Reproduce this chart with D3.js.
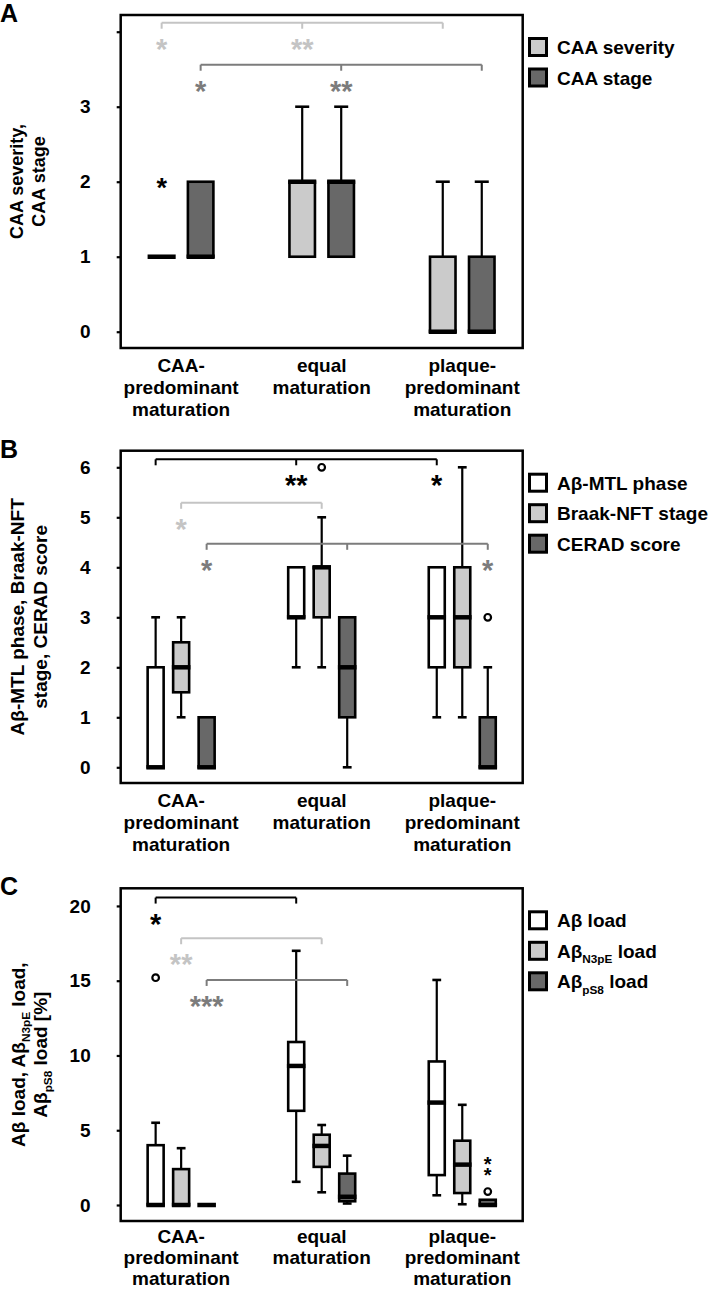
<!DOCTYPE html>
<html>
<head>
<meta charset="utf-8">
<script src="https://cdn.jsdelivr.net/npm/d3@7"></script>
<style>
  body { margin: 0; background: #fff; }
  svg text { font-family: "Liberation Sans", Arial, sans-serif; font-weight: bold; }
</style>
</head>
<body>
<div id="chart"></div>
<script>
// categories
const groupLabels = [
  ["CAA-", "predominant", "maturation"],
  ["equal", "maturation"],
  ["plaque-", "predominant", "maturation"]
];

// box stats per group: [min, q1, median, q3, max]
// panel A
const caaSeverity = [[1, 1, 1, 1, 1], [1, 1, 2, 2, 3], [0, 0, 0, 1, 2]];
const caaStage = [[1, 1, 1, 2, 2], [1, 1, 2, 2, 3], [0, 0, 0, 1, 2]];
const caaSeverityExtremes = [[2], [], []];
const aTicks = [0, 1, 2, 3, 4];
const aTickLabels = ["0", "1", "2", "3", ""];

// panel B
const abMtlPhase = [[0, 0, 0, 2, 3], [2, 3, 3, 4, 4], [1, 2, 3, 4, 4]];
const braakStage = [[1, 1.5, 2, 2.5, 3], [2, 3, 4, 4, 5], [1, 2, 3, 4, 6]];
const ceradScore = [[0, 0, 0, 1, 1], [0, 1, 2, 3, 3], [0, 0, 0, 1, 2]];
const braakOutliers = [[], [6], []];
const ceradOutliers = [[], [], [3]];
const bTicks = [0, 1, 2, 3, 4, 5, 6];

// panel C
const abLoad = [[0, 0, 0, 4.0, 5.5], [1.55, 6.3, 9.3, 10.9, 17.0], [0.65, 2.0, 6.85, 9.6, 15.05]];
const n3peLoad = [[0, 0, 0, 2.4, 3.8], [0.85, 2.55, 3.95, 4.7, 5.35], [0.05, 0.8, 2.7, 4.3, 6.7]];
const ps8Load = [[0, 0, 0, 0, 0], [0.1, 0.25, 0.55, 2.1, 3.3], [0, 0, 0, 0.35, 0.35]];
const abLoadOutliers = [[15.2], [], []];
const ps8Outliers = [[], [], [0.9]];
const ps8Extremes = [[], [], [2.3, 3.0]];
const cTicks = [0, 5, 10, 15, 20];

// significance brackets: series, groups joined, level (data units), stars per joined group
const aBrackets = [
  { series: 0, groups: [0, 1, 2], level: 4.12, stars: ["*", "**", ""] },
  { series: 1, groups: [0, 1, 2], level: 3.56, stars: ["*", "**", ""] }
];
const bBrackets = [
  { series: 0, groups: [0, 1, 2], level: 6.16, stars: ["", "**", "*"] },
  { series: 1, groups: [0, 1], level: 5.29, stars: ["*", ""] },
  { series: 2, groups: [0, 1, 2], level: 4.47, stars: ["*", "", "*"] }
];
const cBrackets = [
  { series: 0, groups: [0, 1], level: 20.56, stars: ["*", ""] },
  { series: 1, groups: [0, 1], level: 17.84, stars: ["**", ""] },
  { series: 2, groups: [0, 1], level: 15.05, stars: ["***", ""] }
];

const WHITE = "#ffffff", LIGHT = "#cbcbcb", DARK = "#686868";
const LIGHT_LINE = "#c4c4c4", DARK_LINE = "#7c7c7c";

const width = 709, height = 1291;
const frameLeft = 120.7, frameRight = 522.7;

const svg = d3.select("#chart").append("svg")
  .attr("width", width)
  .attr("height", height);

// 每个面板的配置
const panels = [
  {
    letter: "A", top: 15, bottom: 348, yDomain: [-0.217, 4.223],
    ticks: aTicks, tickFormat: (d, i) => aTickLabels[i],
    title: [[{ t: "CAA severity," }], [{ t: "CAA stage" }]], titleSize: 18, titleX: [23, 45],
    series: [caaSeverity, caaStage], fills: [LIGHT, DARK], lines: [LIGHT_LINE, DARK_LINE],
    outliers: [[[], [], []], [[], [], []]], extremes: [caaSeverityExtremes, [[], [], []]],
    legend: [[{ t: "CAA severity" }], [{ t: "CAA stage" }]],
    spread: 19.5, boxW: 25.5, brackets: aBrackets, labelGap: 24, labelStep: 22
  },
  {
    letter: "B", top: 450.7, bottom: 783, yDomain: [-0.314, 6.332],
    ticks: bTicks, tickFormat: d3.format("d"),
    title: [[{ t: "Aβ-MTL phase, Braak-NFT" }], [{ t: "stage, CERAD score" }]], titleSize: 19, titleX: [24, 47],
    series: [abMtlPhase, braakStage, ceradScore], fills: [WHITE, LIGHT, DARK], lines: ["#000", LIGHT_LINE, DARK_LINE],
    outliers: [[[], [], []], braakOutliers, ceradOutliers], extremes: [[[], [], []], [[], [], []], [[], [], []]],
    legend: [[{ t: "Aβ-MTL phase" }], [{ t: "Braak-NFT stage" }], [{ t: "CERAD score" }]],
    spread: 25.5, boxW: 16, brackets: bBrackets, labelGap: 24, labelStep: 22
  },
  {
    letter: "C", top: 888.3, bottom: 1221, yDomain: [-1.07, 21.18],
    ticks: cTicks, tickFormat: d3.format("d"),
    title: [
      [{ t: "Aβ load, Aβ" }, { t: "N3pE", sub: true }, { t: " load," }],
      [{ t: "Aβ" }, { t: "pS8", sub: true }, { t: " load [%]" }]
    ], titleSize: 19, titleX: [25, 47],
    series: [abLoad, n3peLoad, ps8Load], fills: [WHITE, LIGHT, DARK], lines: ["#000", LIGHT_LINE, DARK_LINE],
    outliers: [abLoadOutliers, [[], [], []], ps8Outliers], extremes: [[[], [], []], [[], [], []], ps8Extremes],
    legend: [
      [{ t: "Aβ load" }],
      [{ t: "Aβ" }, { t: "N3pE", sub: true }, { t: " load" }],
      [{ t: "Aβ" }, { t: "pS8", sub: true }, { t: " load" }]
    ],
    spread: 25.5, boxW: 16, brackets: cBrackets, labelGap: 22, labelStep: 21
  }
];

// 写带下标的文字
function richText(sel, parts, size) {
  parts.forEach(p => {
    const ts = sel.append("tspan").text(p.t);
    if (p.sub) {
      ts.attr("font-size", size * 0.62).attr("dy", size * 0.28);
    } else if (sel.selectAll("tspan").size() > 1) {
      ts.attr("dy", -size * 0.28);
    }
  });
}

function drawPanel(p) {
  const g = svg.append("g");
  const y = d3.scaleLinear().domain(p.yDomain).range([p.bottom, p.top]);
  const x = d3.scalePoint().domain(d3.range(groupLabels.length))
    .range([frameLeft, frameRight]).padding(0.43);
  const xs = d3.scalePoint().domain(d3.range(p.series.length)).range([-p.spread, p.spread]);
  const cx = (s, gi) => x(gi) + xs(s);
  const capW = p.boxW * 0.55;

  // panel letter
  g.append("text").attr("x", 0).attr("y", p.top + 7).attr("font-size", 25).text(p.letter);

  // y axis
  const axis = g.append("g")
    .attr("transform", `translate(${frameLeft},0)`)
    .call(d3.axisLeft(y).tickValues(p.ticks).tickFormat(p.tickFormat).tickSize(4).tickPadding(26));
  axis.select(".domain").remove();
  axis.selectAll(".tick line").attr("stroke", "#000").attr("stroke-width", 2.2);
  axis.selectAll(".tick text").attr("font-size", 19).attr("font-family", null).attr("fill", "#000");

  // y title
  const midY = (p.top + p.bottom) / 2;
  p.title.forEach((line, i) => {
    const t = g.append("text")
      .attr("transform", `translate(${p.titleX[i]},${midY}) rotate(-90)`)
      .attr("text-anchor", "middle")
      .attr("font-size", p.titleSize);
    richText(t, line, p.titleSize);
  });

  // frame
  g.append("rect")
    .attr("x", frameLeft).attr("y", p.top)
    .attr("width", frameRight - frameLeft).attr("height", p.bottom - p.top)
    .attr("fill", "none").attr("stroke", "#000").attr("stroke-width", 2.5);

  // category labels
  groupLabels.forEach((lines, gi) => {
    lines.forEach((l, li) => {
      g.append("text")
        .attr("x", x(gi)).attr("y", p.bottom + p.labelGap + li * p.labelStep)
        .attr("text-anchor", "middle").attr("font-size", 19)
        .text(l);
    });
  });

  // boxes
  p.series.forEach((data, s) => {
    data.forEach((st, gi) => {
      const [mn, q1, md, q3, mx] = st;
      const c = cx(s, gi);
      const whisk = [];
      if (mx > q3) whisk.push([q3, mx]);
      if (mn < q1) whisk.push([q1, mn]);
      whisk.forEach(([a, b]) => {
        g.append("line").attr("x1", c).attr("x2", c).attr("y1", y(a)).attr("y2", y(b))
          .attr("stroke", "#000").attr("stroke-width", 2.2);
        g.append("line").attr("x1", c - capW / 2).attr("x2", c + capW / 2).attr("y1", y(b)).attr("y2", y(b))
          .attr("stroke", "#000").attr("stroke-width", 2.6);
      });
      g.append("rect")
        .attr("x", c - p.boxW / 2).attr("y", y(q3))
        .attr("width", p.boxW).attr("height", Math.max(0, y(q1) - y(q3)))
        .attr("fill", p.fills[s]).attr("stroke", "#000").attr("stroke-width", 2.6);
      g.append("line")
        .attr("x1", c - p.boxW / 2 - 1.3).attr("x2", c + p.boxW / 2 + 1.3)
        .attr("y1", y(md)).attr("y2", y(md))
        .attr("stroke", "#000").attr("stroke-width", 4.5);

      p.outliers[s][gi].forEach(v => {
        g.append("circle").attr("cx", c).attr("cy", y(v)).attr("r", 3.3)
          .attr("fill", "#fff").attr("stroke", "#000").attr("stroke-width", 2.2);
      });
      // extreme values as asterisks, stacked in one text element
      const ex = p.extremes[s][gi];
      if (ex.length) {
        const exSize = p.boxW > 20 ? 27 : 20;
        const t = g.append("text").attr("text-anchor", "middle").attr("font-size", exSize);
        ex.forEach(v => {
          t.append("tspan").attr("x", c).attr("y", y(v) + exSize * 0.56).text("*");
        });
      }
    });
  });

  // significance brackets
  p.brackets.forEach(b => {
    const col = p.lines[b.series];
    const yy = y(b.level);
    const xsPos = b.groups.map(gi => cx(b.series, gi));
    g.append("line").attr("x1", d3.min(xsPos)).attr("x2", d3.max(xsPos))
      .attr("y1", yy).attr("y2", yy).attr("stroke", col).attr("stroke-width", 2);
    xsPos.forEach((xx, i) => {
      g.append("line").attr("x1", xx).attr("x2", xx).attr("y1", yy).attr("y2", yy + 6)
        .attr("stroke", col).attr("stroke-width", 2);
      if (b.stars[i]) {
        g.append("text").attr("x", xx).attr("y", yy + 20 + 16)
          .attr("text-anchor", "middle").attr("font-size", 29)
          .attr("fill", col).text(b.stars[i]);
      }
    });
  });

  // legend
  p.legend.forEach((parts, i) => {
    const ly = p.top + 22 + i * 30.5;
    g.append("rect").attr("x", 529.5).attr("y", ly + 1.5).attr("width", 17).attr("height", 17)
      .attr("fill", p.fills[i]).attr("stroke", "#000").attr("stroke-width", 3);
    const t = g.append("text").attr("x", 557).attr("y", ly + 17).attr("font-size", 19);
    richText(t, parts, 19);
  });
}

panels.forEach(drawPanel);
</script>
</body>
</html>
